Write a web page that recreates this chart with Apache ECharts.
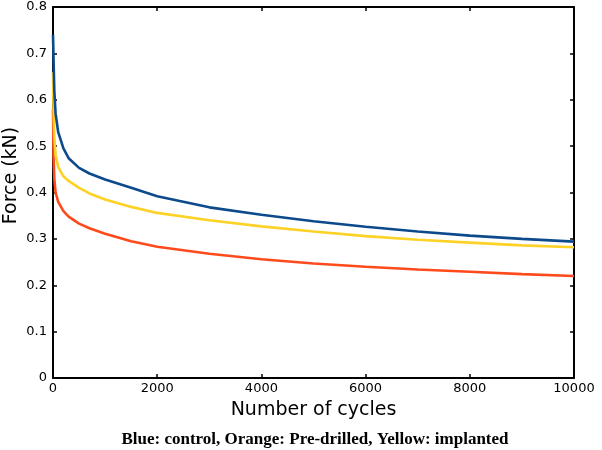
<!DOCTYPE html>
<html><head><meta charset="utf-8">
<script src="https://cdn.jsdelivr.net/npm/echarts@6/dist/echarts.min.js"></script>
<style>html,body{margin:0;padding:0;background:#fff}#c{width:602px;height:450px}</style>
</head><body><div id="c"></div>
<script>
var cycles = [0, 10, 25, 50, 100, 200, 300, 500, 700, 1000, 1500, 2000, 3000, 4000, 5000, 6000, 7000, 8000, 9000, 10000];
var control = [0.74, 0.69, 0.62, 0.57, 0.53, 0.495, 0.474, 0.453, 0.441, 0.428, 0.41, 0.392, 0.368, 0.352, 0.338, 0.326, 0.316, 0.307, 0.3, 0.294];
var implanted = [0.66, 0.58, 0.52, 0.48, 0.455, 0.435, 0.425, 0.41, 0.398, 0.385, 0.369, 0.356, 0.34, 0.327, 0.316, 0.306, 0.298, 0.292, 0.286, 0.282];
var predrilled = [0.58, 0.48, 0.43, 0.40, 0.38, 0.36, 0.348, 0.333, 0.323, 0.311, 0.295, 0.283, 0.268, 0.256, 0.247, 0.24, 0.234, 0.229, 0.224, 0.22];
var xTicks = [0, 2000, 4000, 6000, 8000, 10000];
var yTicks = [0, 0.1, 0.2, 0.3, 0.4, 0.5, 0.6, 0.7, 0.8];
var caption = 'Blue: control, Orange: Pre-drilled, Yellow: implanted';

function pairs(v){ return cycles.map(function(c,i){ return [c, v[i]]; }); }
var font = 'DejaVu Sans';
var chart = echarts.init(document.getElementById('c'));
var axLine = {show:true, onZero:false, lineStyle:{color:'#000', width:2}};
var tick = {show:true, inside:true, length:4, lineStyle:{color:'#000', width:1.5}};
chart.setOption({
  animation:false,
  backgroundColor:'#fff',
  title:{text:caption, left:310, textAlign:'center', top:426,
    textStyle:{fontFamily:'Liberation Serif', fontWeight:'bold', fontSize:17, color:'#000'}},
  grid:{left:53, right:28, top:7, bottom:72, outerBoundsMode:'none', containLabel:false},
  xAxis:[{type:'value', min:xTicks[0], max:xTicks[xTicks.length-1], interval:2000,
    name:'Number of cycles', nameLocation:'middle', nameGap:23,
    nameTextStyle:{fontFamily:font, fontSize:19, color:'#000'},
    axisLine:axLine, axisTick:tick, splitLine:{show:false},
    axisLabel:{fontFamily:font, fontSize:13, color:'#000', margin:4,
      formatter:function(v){ return String(v); }}},
   {type:'value', position:'top', min:0, max:10000, interval:2000,
    axisLine:axLine, axisTick:tick, axisLabel:{show:false}, splitLine:{show:false}}],
  yAxis:[{type:'value', min:yTicks[0], max:yTicks[yTicks.length-1], interval:0.1,
    name:'Force (kN)', nameLocation:'middle', nameGap:32, nameMoveOverlap:false,
    nameTextStyle:{fontFamily:font, fontSize:19, color:'#000', padding:[0,0,0,34]},
    axisLine:axLine, axisTick:tick, splitLine:{show:false},
    axisLabel:{fontFamily:font, fontSize:13, color:'#000', margin:6,
      formatter:function(v){ return v===0 ? '0' : v.toFixed(1); }}},
   {type:'value', position:'right', min:0, max:0.8, interval:0.1,
    axisLine:axLine, axisTick:tick, axisLabel:{show:false}, splitLine:{show:false}}],
  series:[
    {name:'Pre-drilled', type:'line', data:pairs(predrilled), showSymbol:false, smooth:false,
      lineStyle:{color:'#ff4b1c', width:2.6}, z:2},
    {name:'implanted', type:'line', data:pairs(implanted), showSymbol:false, smooth:false,
      lineStyle:{color:'#fdd226', width:2.6}, z:3},
    {name:'control', type:'line', data:pairs(control), showSymbol:false, smooth:false,
      lineStyle:{color:'#0c4a8c', width:2.6}, z:4}
  ]
});
</script></body></html>
